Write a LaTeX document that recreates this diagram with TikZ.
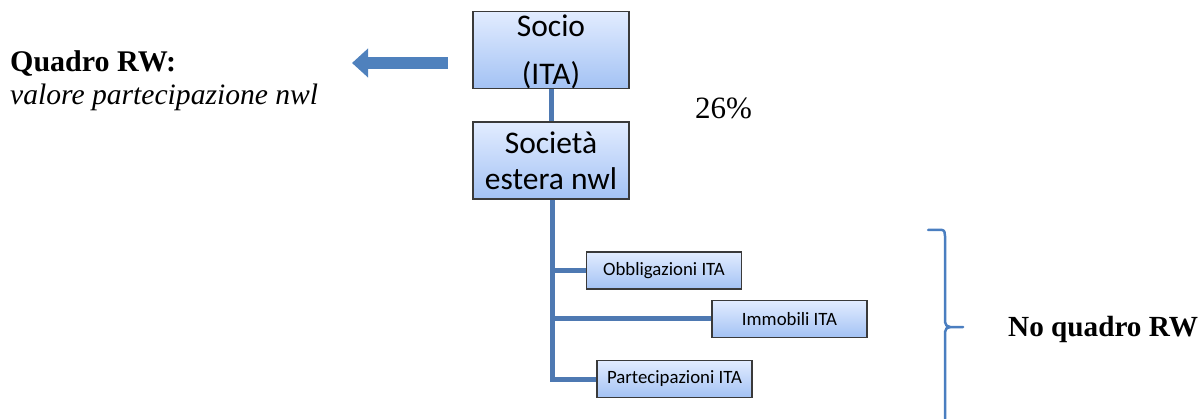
\documentclass[tikz,border=0pt]{standalone}
\usepackage{fontspec}
\setmainfont{Liberation Serif}
\newfontfamily\calib{Carlito}
\usetikzlibrary{arrows.meta}
\definecolor{linecol}{HTML}{4E79B2}
\definecolor{arrowcol}{HTML}{4F81BD}
\definecolor{bracecol}{HTML}{4A7EC0}
\definecolor{boxtop}{HTML}{E2ECFF}
\definecolor{boxbot}{HTML}{A3C2F4}
\definecolor{boxline}{HTML}{3A3A3A}
\tikzset{
  bigbox/.style={draw=boxline, line width=1.3pt, top color=boxtop, bottom color=boxbot,
    minimum width=156pt, minimum height=77pt, inner sep=0pt, align=center,
    font=\calib\fontsize{31.5}{36}\selectfont},
  bigtext/.style={inner sep=0pt, anchor=base, font=\calib\fontsize{31.5}{36}\selectfont},
  smallbox/.style={draw=boxline, line width=1.3pt, top color=boxtop, bottom color=boxbot,
    minimum width=155pt, minimum height=37pt, inner sep=0pt, align=center,
    font=\calib\fontsize{18.8}{22}\selectfont},
  conn/.style={draw=linecol, line width=5pt},
  serif/.style={inner sep=0pt, anchor=base west},
}
\begin{document}
\begin{tikzpicture}[x=1pt,y=-1pt]
\useasboundingbox (0,0) rectangle (1201,419);
% main boxes
\node[bigbox] (socio) at (551,50) {};
\node[bigtext] (sociot1) at (551,37) {Socio};
\node[bigtext] (sociot2) at (551,85) {(ITA)};
\node[bigbox] (soc) at (551,160.5) {Società\\estera nwl};
\draw[conn] (socio.south) -- (soc.north);
% small boxes
\node[smallbox] (obb) at (664,270.5) {Obbligazioni ITA};
\node[smallbox] (imm) at (789.5,319) {Immobili ITA};
\node[smallbox] (par) at (674.5,379) {Partecipazioni ITA};
\coordinate (vb) at (552,379);
\draw[conn] (soc.south -| vb) -- (vb) -- (par.west);
\draw[conn] (552,270.5) -- (obb.west);
\draw[conn] (552,319) -- (imm.west);
% arrow
\coordinate (as) at (448,63);
\coordinate (ae) at (352,63);
\draw[arrowcol, line width=12pt, -{Triangle[length=16pt,width=28pt]}] (as) -- (ae);
% texts
\node[serif, font=\bfseries\fontsize{30}{36}\selectfont] (qrw) at (10,72) {Quadro RW:};
\node[serif, font=\itshape\fontsize{29.6}{36}\selectfont] (val) at (10,105) {valore partecipazione nwl};
\node[serif, font=\fontsize{31}{36}\selectfont] (pct) at (695,119) {26\%};
\node[serif, font=\bfseries\fontsize{29.2}{36}\selectfont] (noq) at (1008,337) {No quadro RW};
% brace
\draw[bracecol, line width=2.5pt, line cap=round, line join=round]
  (928,230) -- (942,230) to[out=0,in=90] (945,236) -- (945,322)
  to[out=-90,in=180] (950,327) -- (963,327);
\draw[bracecol, line width=2.5pt] (950,327) to[out=180,in=90] (945,332) -- (945,425);
\end{tikzpicture}
\end{document}
